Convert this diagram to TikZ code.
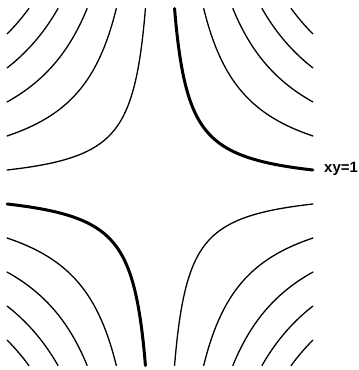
\documentclass[tikz,border=0pt]{standalone}
\usepackage{fontspec}
\setmainfont{Liberation Sans}
\begin{document}
\begin{tikzpicture}[x=51pt,y=51pt,
  thincurve/.style={line width=1.3pt,line cap=round},
  boldcurve/.style={line width=3pt,line cap=round},
  lbl/.style={font=\fontsize{15}{18}\selectfont\bfseries,inner sep=0pt}]
\useasboundingbox (-160pt,-183pt) rectangle (199pt,187pt);
\pgfmathsetmacro\tb{ln(3)}
\foreach \cc in {1,3,5,7,9} {
  \pgfmathsetmacro\ta{ln(\cc/3.5)}
  \ifnum\cc=1 \def\qstyle{boldcurve}\else\def\qstyle{thincurve}\fi
  \draw[\qstyle] plot[domain=\ta:\tb,samples=80,smooth] ({exp(\x)},{\cc*exp(-\x)});
  \draw[\qstyle] plot[domain=\ta:\tb,samples=80,smooth] ({-exp(\x)},{-\cc*exp(-\x)});
  \draw[thincurve] plot[domain=\ta:\tb,samples=80,smooth] ({-exp(\x)},{\cc*exp(-\x)});
  \draw[thincurve] plot[domain=\ta:\tb,samples=80,smooth] ({exp(\x)},{-\cc*exp(-\x)});
}
\coordinate (e1) at (3,{1/3});
\node[lbl,anchor=mid west,xshift=11pt] (lab) at (e1) {xy=1};
\end{tikzpicture}
\end{document}
